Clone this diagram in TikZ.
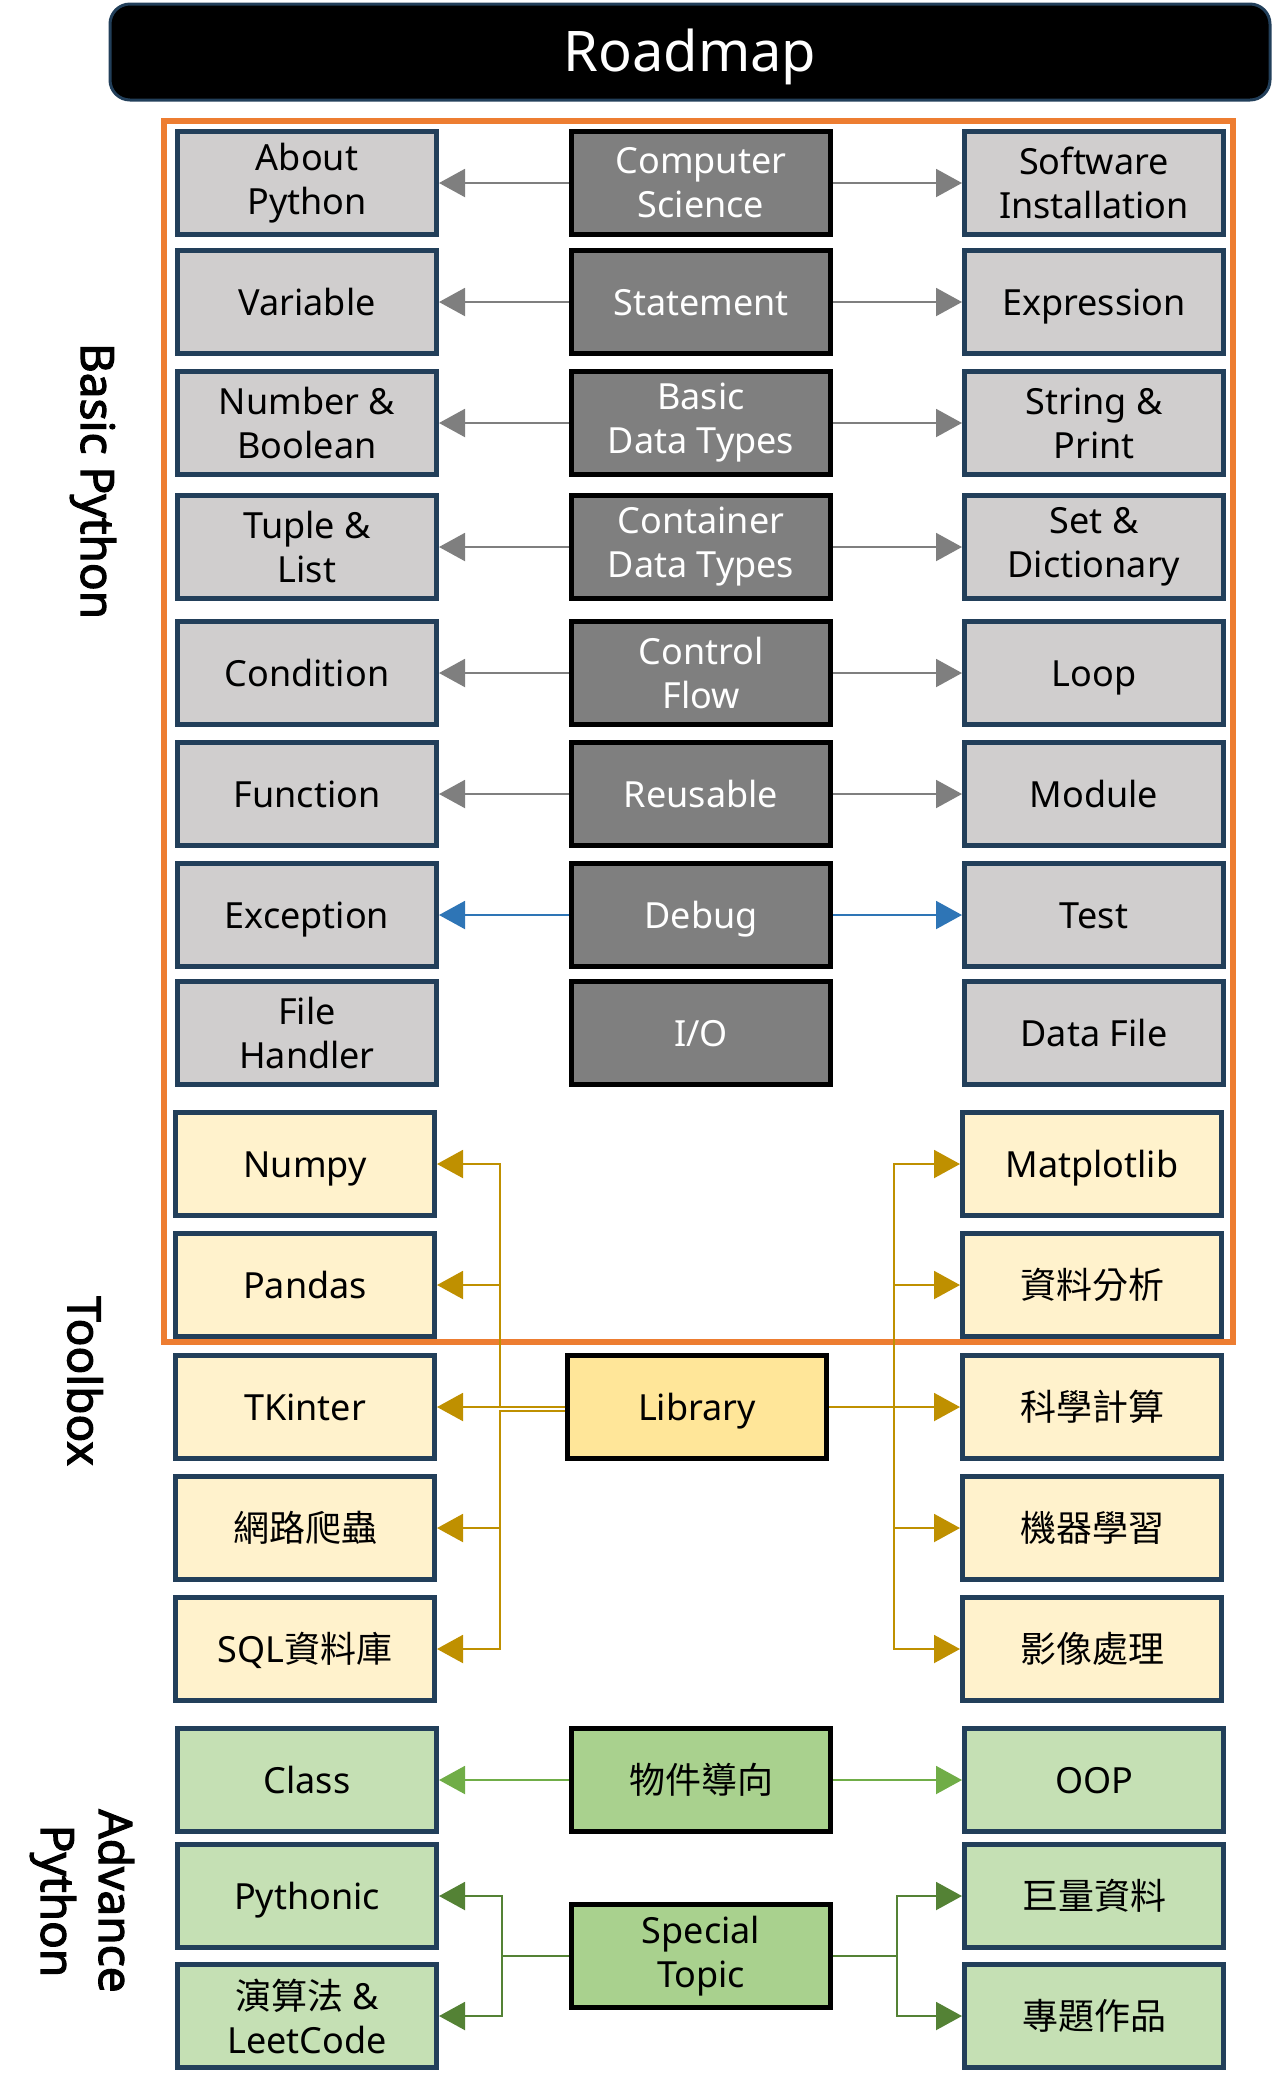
\documentclass[tikz,border=0pt]{standalone}
\usepackage{fontspec}
\setmainfont{Noto Sans}
\newfontfamily\cjk{Noto Sans CJK TC}
\newfontfamily\sidefont{Noto Sans}[FakeBold=2.5]
\usepackage{tikz}
\usetikzlibrary{arrows.meta}

\definecolor{navy}{HTML}{223F5A}
\definecolor{boxgray}{HTML}{D0CECE}
\definecolor{topicgray}{HTML}{7F7F7F}
\definecolor{cream}{HTML}{FFF2CC}
\definecolor{butter}{HTML}{FFE699}
\definecolor{mint}{HTML}{C5E0B4}
\definecolor{leaf}{HTML}{A9D18E}
\definecolor{frameorange}{HTML}{ED7D31}
\definecolor{gold}{HTML}{BF9000}
\definecolor{debugblue}{HTML}{2E75B6}
\definecolor{lightleaf}{HTML}{70AD47}
\definecolor{darkleaf}{HTML}{548235}

\begin{document}
\begin{tikzpicture}[x=0.5pt, y=-0.5pt,
    box/.style={draw=navy, line width=2.5pt, minimum width=129.5pt, minimum height=51.5pt,
        inner sep=0pt, align=center, font=\fontsize{18}{22}\selectfont},
    oneline/.style={text height=13pt, text depth=0pt},
    basicbox/.style={box, fill=boxgray},
    basictopic/.style={box, draw=black, fill=topicgray, text=white},
    toolbox/.style={box, fill=cream},
    tooltopic/.style={box, draw=black, fill=butter},
    advbox/.style={box, fill=mint},
    advtopic/.style={box, draw=black, fill=leaf},
    sidelabel/.style={rotate=-90, align=center, font=\sidefont\fontsize{23}{29}\selectfont},
    tip/.style={-{Triangle[length=13pt, width=14pt]}, line width=1pt},
    grayarrow/.style={tip, color=topicgray},
    bluearrow/.style={tip, color=debugblue},
    goldarrow/.style={tip, color=gold},
    greenarrow/.style={tip, color=lightleaf},
    darkarrow/.style={tip, color=darkleaf}]
    \useasboundingbox (0,0) rectangle (1274,2090);

    % title and frame
    \node [draw=navy, fill=black, line width=1.5pt, rounded corners=10pt, minimum width=580pt,
        minimum height=48pt, text height=19pt, text depth=0pt, text=white,
        font=\fontsize{28}{34}\selectfont] (title) at (690,52) {Roadmap};
    \draw [frameorange, line width=3pt] (164,121) rectangle (1233,1342);

    \node [sidelabel] (basiclabel) at (93,481) {Basic Python};
    \node [sidelabel] (toollabel) at (85,1381) {Toolbox};
    \node [sidelabel] (advlabel) at (82,1901) {Advance\\Python};

    % basic python
    \node [basicbox] (about) at (307,183) {About\\Python};
    \node [basictopic] (compsci) at (701,183) {Computer\\Science};
    \node [basicbox] (software) at (1094,183) {Software\\Installation};
    \node [basicbox, oneline] (variable) at (307,302) {Variable};
    \node [basictopic, oneline] (statement) at (701,302) {Statement};
    \node [basicbox, oneline] (expression) at (1094,302) {Expression};
    \node [basicbox] (number) at (307,423) {Number \&\\Boolean};
    \node [basictopic] (basictypes) at (701,423) {Basic\\Data Types};
    \node [basicbox] (stringprint) at (1094,423) {String \&\\Print};
    \node [basicbox] (tuplelist) at (307,547) {Tuple \&\\List};
    \node [basictopic] (container) at (701,547) {Container\\Data Types};
    \node [basicbox] (setdict) at (1094,547) {Set \&\\Dictionary};
    \node [basicbox, oneline] (condition) at (307,673) {Condition};
    \node [basictopic] (control) at (701,673) {Control\\Flow};
    \node [basicbox, oneline] (loop) at (1094,673) {Loop};
    \node [basicbox, oneline] (function) at (307,794) {Function};
    \node [basictopic, oneline] (reusable) at (701,794) {Reusable};
    \node [basicbox, oneline] (module) at (1094,794) {Module};
    \node [basicbox, oneline] (exception) at (307,915) {Exception};
    \node [basictopic, oneline] (debug) at (701,915) {Debug};
    \node [basicbox, oneline] (test) at (1094,915) {Test};
    \node [basicbox] (filehandler) at (307,1033) {File\\Handler};
    \node [basictopic, oneline] (io) at (701,1033) {I/O};
    \node [basicbox, oneline] (datafile) at (1094,1033) {Data File};

    \draw [grayarrow] (compsci) edge (about) (compsci) edge (software);
    \draw [grayarrow] (statement) edge (variable) (statement) edge (expression);
    \draw [grayarrow] (basictypes) edge (number) (basictypes) edge (stringprint);
    \draw [grayarrow] (container) edge (tuplelist) (container) edge (setdict);
    \draw [grayarrow] (control) edge (condition) (control) edge (loop);
    \draw [grayarrow] (reusable) edge (function) (reusable) edge (module);
    \draw [bluearrow] (debug) edge (exception) (debug) edge (test);

    % toolbox
    \node [toolbox, oneline] (numpy) at (305,1164) {Numpy};
    \node [toolbox, oneline] (matplotlib) at (1092,1164) {Matplotlib};
    \node [toolbox, oneline] (pandas) at (305,1285) {Pandas};
    \node [toolbox, oneline] (analysis) at (1092,1285) {\cjk 資料分析};
    \node [toolbox, oneline] (tkinter) at (305,1407) {TKinter};
    \node [tooltopic, oneline] (library) at (697,1407) {Library};
    \node [toolbox, oneline] (science) at (1092,1407) {\cjk 科學計算};
    \node [toolbox, oneline] (crawler) at (305,1528) {\cjk 網路爬蟲};
    \node [toolbox, oneline] (learning) at (1092,1528) {\cjk 機器學習};
    \node [toolbox, oneline] (sqldb) at (305,1649) {SQL{\cjk 資料庫}};
    \node [toolbox, oneline] (imaging) at (1092,1649) {\cjk 影像處理};

    \coordinate (libleft) at (500,1407);
    \coordinate (liblow) at (500,1411);
    \coordinate (libright) at (894,1407);
    \draw [goldarrow] (library.west) -- (libleft) |- (numpy.east);
    \draw [goldarrow] (library.west) -- (libleft) |- (pandas.east);
    \draw [goldarrow] (library.west) -- (tkinter.east);
    \draw [goldarrow] ([yshift=-2pt]library.west) -- (liblow) |- (crawler.east);
    \draw [goldarrow] ([yshift=-2pt]library.west) -- (liblow) |- (sqldb.east);
    \draw [goldarrow] (library.east) -- (libright) |- (matplotlib.west);
    \draw [goldarrow] (library.east) -- (libright) |- (analysis.west);
    \draw [goldarrow] (library.east) -- (science.west);
    \draw [goldarrow] (library.east) -- (libright) |- (learning.west);
    \draw [goldarrow] (library.east) -- (libright) |- (imaging.west);

    % advance python
    \node [advbox, oneline] (class) at (307,1780) {Class};
    \node [advtopic, oneline] (objects) at (701,1780) {\cjk 物件導向};
    \node [advbox, oneline] (oop) at (1094,1780) {OOP};
    \node [advbox, oneline] (pythonic) at (307,1896) {Pythonic};
    \node [advbox, oneline] (bigdata) at (1094,1896) {\cjk 巨量資料};
    \node [advtopic] (special) at (701,1956) {Special\\Topic};
    \node [advbox] (algorithm) at (307,2016) {{\cjk 演算法} \&\\LeetCode};
    \node [advbox, oneline] (project) at (1094,2016) {\cjk 專題作品};

    \draw [greenarrow] (objects) edge (class) (objects) edge (oop);
    \coordinate (spleft) at (502,1956);
    \coordinate (spright) at (897,1956);
    \draw [darkarrow] (special.west) -- (spleft) |- (pythonic.east);
    \draw [darkarrow] (special.west) -- (spleft) |- (algorithm.east);
    \draw [darkarrow] (special.east) -- (spright) |- (bigdata.west);
    \draw [darkarrow] (special.east) -- (spright) |- (project.west);
\end{tikzpicture}
\end{document}
